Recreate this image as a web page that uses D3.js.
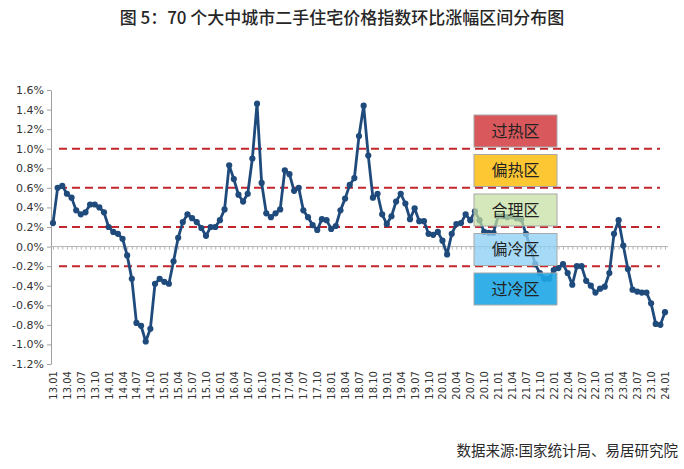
<!DOCTYPE html>
<html><head><meta charset="utf-8">
<script src="https://cdn.jsdelivr.net/npm/d3@7/dist/d3.min.js"></script>
<style>
body{margin:0;background:#fff;}
svg{display:block;}
</style></head>
<body><svg id="c" width="684" height="469"></svg>
<script>
// ---- data ----
const months = [
 "13.01","13.02","13.03","13.04","13.05","13.06","13.07","13.08","13.09","13.10","13.11","13.12",
 "14.01","14.02","14.03","14.04","14.05","14.06","14.07","14.08","14.09","14.10","14.11","14.12",
 "15.01","15.02","15.03","15.04","15.05","15.06","15.07","15.08","15.09","15.10","15.11","15.12",
 "16.01","16.02","16.03","16.04","16.05","16.06","16.07","16.08","16.09","16.10","16.11","16.12",
 "17.01","17.02","17.03","17.04","17.05","17.06","17.07","17.08","17.09","17.10","17.11","17.12",
 "18.01","18.02","18.03","18.04","18.05","18.06","18.07","18.08","18.09","18.10","18.11","18.12",
 "19.01","19.02","19.03","19.04","19.05","19.06","19.07","19.08","19.09","19.10","19.11","19.12",
 "20.01","20.02","20.03","20.04","20.05","20.06","20.07","20.08","20.09","20.10","20.11","20.12",
 "21.01","21.02","21.03","21.04","21.05","21.06","21.07","21.08","21.09","21.10","21.11","21.12",
 "22.01","22.02","22.03","22.04","22.05","22.06","22.07","22.08","22.09","22.10","22.11","22.12",
 "23.01","23.02","23.03","23.04","23.05","23.06","23.07","23.08","23.09","23.10","23.11","23.12",
 "24.01"
];
const values = [
 0.24,0.60,0.62,0.54,0.50,0.37,0.33,0.35,0.43,0.43,0.40,0.35,
 0.20,0.15,0.13,0.08,-0.09,-0.33,-0.78,-0.81,-0.97,-0.84,-0.38,-0.33,
 -0.36,-0.38,-0.15,0.09,0.25,0.33,0.29,0.25,0.19,0.11,0.20,0.20,
 0.27,0.38,0.83,0.69,0.53,0.46,0.54,0.90,1.46,0.65,0.34,0.30,
 0.34,0.38,0.78,0.74,0.57,0.60,0.37,0.30,0.22,0.17,0.28,0.27,
 0.18,0.21,0.37,0.49,0.63,0.70,1.13,1.44,0.93,0.50,0.54,0.33,
 0.23,0.31,0.46,0.54,0.44,0.28,0.39,0.26,0.26,0.13,0.12,0.15,
 0.06,-0.08,0.13,0.23,0.24,0.33,0.27,0.36,0.27,0.15,0.14,0.14,
 0.31,0.31,0.30,0.31,0.29,0.28,0.13,-0.01,-0.18,-0.27,-0.33,-0.33,
 -0.24,-0.22,-0.18,-0.27,-0.39,-0.20,-0.20,-0.35,-0.40,-0.47,-0.43,-0.41,
 -0.27,0.13,0.27,0.01,-0.23,-0.44,-0.46,-0.47,-0.47,-0.58,-0.79,-0.80,
 -0.67
];
const tickLabels = [
 "13.01","13.04","13.07","13.10","14.01","14.04","14.07","14.10","15.01","15.04","15.07","15.10",
 "16.01","16.04","16.07","16.10","17.01","17.04","17.07","17.10","18.01","18.04","18.07","18.10",
 "19.01","19.04","19.07","19.10","20.01","20.04","20.07","20.10","21.01","21.04","21.07","21.10",
 "22.01","22.04","22.07","22.10","23.01","23.04","23.07","23.10","24.01"
];
const yTicks = [-1.2,-1.0,-0.8,-0.6,-0.4,-0.2,0,0.2,0.4,0.6,0.8,1.0,1.2,1.4,1.6];
const thresholds = [1.0, 0.6, 0.2, -0.2];
const zoneNames = ["过热区","偏热区","合理区","偏冷区","过冷区"];
const zoneColors = ["#d9585c","#fdc734","#c3dfa2","#8ed0f4","#1ea6e6"];
const zoneOpacity = [1, 1, 0.72, 0.78, 0.9];
const title = "图 5：70 个大中城市二手住宅价格指数环比涨幅区间分布图";
const source = "数据来源:国家统计局、易居研究院";

// ---- drawing ----
const svg = d3.select("#c");
const x = d3.scalePoint().domain(months).range([53, 665]);
const y = d3.scaleLinear().domain([-1.2, 1.6]).range([364, 90]);
const numFont = "'DejaVu Sans', sans-serif";
const cjkFont = "'Noto Sans CJK SC', sans-serif";

svg.append("text").attr("x", 342).attr("y", 24).attr("text-anchor", "middle")
  .attr("font-family", cjkFont).attr("font-size", 17).attr("font-weight", 500)
  .attr("fill", "#262626").text(title);

// y axis
const gy = svg.append("g").attr("transform", "translate(51,0)")
  .call(d3.axisLeft(y).tickValues(yTicks).tickSize(4).tickSizeOuter(0)
        .tickFormat(d => d.toFixed(1) + "%"));
gy.select(".domain").attr("stroke", "#a0a0a0");
gy.selectAll(".tick line").attr("stroke", "#a0a0a0");
gy.selectAll(".tick text").attr("font-family", numFont).attr("font-size", 11)
  .attr("fill", "#333").attr("x", -7);

// zero axis with category ticks
const gx = svg.append("g").attr("transform", `translate(0,${y(0)})`)
  .call(d3.axisBottom(x).tickValues(months).tickSize(3).tickSizeOuter(0).tickFormat(""));
gx.select(".domain").attr("d", `M51,0H668`).attr("stroke", "#b5b5b5");
gx.selectAll(".tick line").attr("stroke", "#b5b5b5");

// tick labels
const gl = svg.append("g").attr("transform", "translate(0,368)")
  .call(d3.axisBottom(x).tickValues(tickLabels).tickSize(0));
gl.select(".domain").remove();
gl.selectAll(".tick text")
  .attr("transform", "rotate(-90)")
  .attr("text-anchor", "end")
  .attr("x", -3).attr("y", 0).attr("dy", "0.35em")
  .attr("font-family", numFont).attr("font-size", 10).attr("fill", "#333");

// threshold dashed lines
svg.append("g").selectAll("line").data(thresholds).join("line")
  .attr("x1", x(months[0]) + 6).attr("x2", x(months[months.length - 1]) - 5)
  .attr("y1", d => y(d)).attr("y2", d => y(d))
  .attr("stroke", "#c3262d").attr("stroke-width", 2).attr("stroke-dasharray", "8,5");

// series
const pts = months.map((m, i) => ({m, v: values[i]}));
svg.append("path").datum(pts)
  .attr("fill", "none").attr("stroke", "#1f4a7c").attr("stroke-width", 2.8)
  .attr("stroke-linejoin", "round")
  .attr("d", d3.line().x(d => x(d.m)).y(d => y(d.v)));
svg.append("g").selectAll("circle").data(pts).join("circle")
  .attr("cx", d => x(d.m)).attr("cy", d => y(d.v)).attr("r", 3.1)
  .attr("fill", "#1f4a7c");

// zone boxes
const zg = svg.append("g").selectAll("g").data(zoneNames).join("g")
  .attr("transform", (d, i) => `translate(474,${115 + i * 39.5})`);
zg.append("rect").attr("width", 83).attr("height", 32)
  .attr("fill", (d, i) => zoneColors[i]).attr("fill-opacity", (d, i) => zoneOpacity[i])
  .attr("stroke", "#a8a8a8").attr("stroke-width", 1);
zg.append("text").attr("x", 41.5).attr("y", 16).attr("dy", "0.35em")
  .attr("text-anchor", "middle").attr("font-family", cjkFont).attr("font-size", 16)
  .attr("fill", "#222").text(d => d);

svg.append("text").attr("x", 678).attr("y", 456).attr("text-anchor", "end")
  .attr("font-family", cjkFont).attr("font-size", 14.5).attr("fill", "#2a2a2a").text(source);
</script></body></html>
